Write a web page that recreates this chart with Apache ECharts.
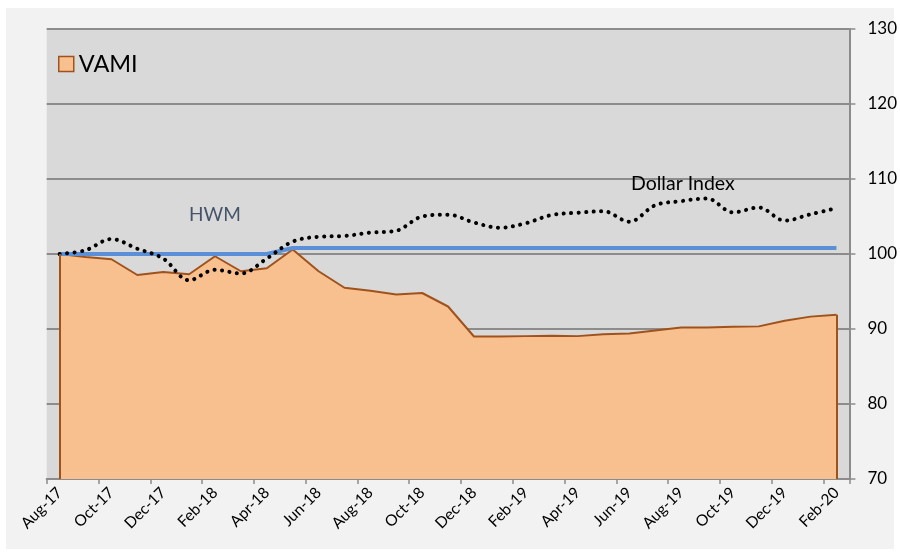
<!DOCTYPE html>
<html>
<head>
<meta charset="utf-8">
<script src="https://cdn.jsdelivr.net/npm/echarts@6/dist/echarts.min.js"></script>
<style>
html,body{margin:0;padding:0;background:#ffffff;}
#chart{width:900px;height:557px;}
</style>
</head>
<body>
<div id="chart"></div>
<script>
const months = ['Aug-17','Sep-17','Oct-17','Nov-17','Dec-17','Jan-18','Feb-18','Mar-18','Apr-18','May-18','Jun-18','Jul-18','Aug-18','Sep-18','Oct-18','Nov-18','Dec-18','Jan-19','Feb-19','Mar-19','Apr-19','May-19','Jun-19','Jul-19','Aug-19','Sep-19','Oct-19','Nov-19','Dec-19','Jan-20','Feb-20'];
const vami = [100, 99.6, 99.3, 97.2, 97.6, 97.3, 99.7, 97.7, 98.1, 100.6, 97.7, 95.5, 95.1, 94.6, 94.8, 93.0, 89.0, 89.0, 89.05, 89.1, 89.05, 89.3, 89.4, 89.8, 90.2, 90.2, 90.3, 90.35, 91.1, 91.65, 91.9];
const hwm = [100, 100, 100, 100, 100, 100, 100, 100, 100, 100.8, 100.8, 100.8, 100.8, 100.8, 100.8, 100.8, 100.8, 100.8, 100.8, 100.8, 100.8, 100.8, 100.8, 100.8, 100.8, 100.8, 100.8, 100.8, 100.8, 100.8, 100.8];
const dollarIndex = [100, 100.5, 102.0, 100.7, 99.4, 96.5, 97.9, 97.4, 99.4, 101.65, 102.3, 102.4, 102.85, 103.1, 105.0, 105.25, 104.2, 103.5, 104.1, 105.2, 105.5, 105.7, 104.3, 106.5, 107.05, 107.4, 105.55, 106.2, 104.45, 105.3, 106.1];
const yTicks = {min: 70, max: 130, step: 10};

const FONT = 'Lato, "Open Sans", sans-serif';
const last = months.length - 1;
const chart = echarts.init(document.getElementById('chart'), null, {renderer: 'canvas'});
chart.setOption({
  animation: false,
  backgroundColor: '#ffffff',
  graphic: [
    {type: 'rect', z: -10, silent: true, shape: {x: 6, y: 8, width: 888, height: 541}, style: {fill: '#f2f2f2'}},
    {type: 'text', left: 189, top: 205, z: 50, style: {text: 'HWM', fill: '#44546a', font: '19px ' + FONT}},
    {type: 'text', left: 631, top: 174, z: 50, style: {text: 'Dollar Index', fill: '#000000', font: '19.5px ' + FONT}}
  ],
  grid: {left: 46.7, right: 47.3, top: 29, bottom: 78, show: true, backgroundColor: '#d9d9d9', borderWidth: 0},
  legend: {
    left: 53, top: 47, itemWidth: 15, itemHeight: 15, itemGap: 6,
    textStyle: {fontSize: 23.5, color: '#000', fontFamily: FONT},
    data: [{name: 'VAMI', icon: 'rect', itemStyle: {color: '#f9c08f', borderColor: '#a0521c', borderWidth: 1.5}}]
  },
  xAxis: {
    type: 'category', data: months, boundaryGap: true,
    axisLine: {show: true, lineStyle: {color: '#8c8c8c', width: 2}},
    axisTick: {show: true, interval: 1, length: 5, lineStyle: {color: '#8c8c8c', width: 1.5}},
    axisLabel: {interval: 1, rotate: 45, fontSize: 15.5, color: '#000', fontFamily: FONT, margin: 11},
    splitLine: {show: false}
  },
  yAxis: {
    type: 'value', position: 'right', min: yTicks.min, max: yTicks.max, interval: yTicks.step,
    axisLine: {show: true, lineStyle: {color: '#8c8c8c', width: 2}},
    axisTick: {show: true, length: 6, lineStyle: {color: '#8c8c8c', width: 1.5}},
    axisLabel: {fontSize: 17, color: '#000', fontFamily: FONT, margin: 18},
    splitLine: {show: true, lineStyle: {color: '#8c8c8c', width: 2}}
  },
  series: [
    {
      name: 'VAMI', type: 'line', data: vami, symbol: 'none', z: 2,
      lineStyle: {color: '#a0521c', width: 2},
      itemStyle: {color: '#f9c08f'},
      areaStyle: {color: '#f9c08f', opacity: 1, origin: 'start'},
      markLine: {
        silent: true, symbol: ['none', 'none'], label: {show: false},
        lineStyle: {color: '#a0521c', width: 2, type: 'solid'},
        data: [
          [{xAxis: months[0], yAxis: yTicks.min}, {xAxis: months[0], yAxis: vami[0]}],
          [{xAxis: months[last], yAxis: yTicks.min}, {xAxis: months[last], yAxis: vami[last]}]
        ]
      }
    },
    {
      name: 'HWM', type: 'line', data: hwm, symbol: 'none', z: 3,
      lineStyle: {color: '#5b8fd8', width: 4}
    },
    {
      name: 'Dollar Index', type: 'line', data: dollarIndex, symbol: 'none', z: 4, smooth: 0.35,
      lineStyle: {color: '#000000', width: 4, type: [0.1, 7.4], cap: 'round'}
    }
  ]
});
</script>
</body>
</html>
